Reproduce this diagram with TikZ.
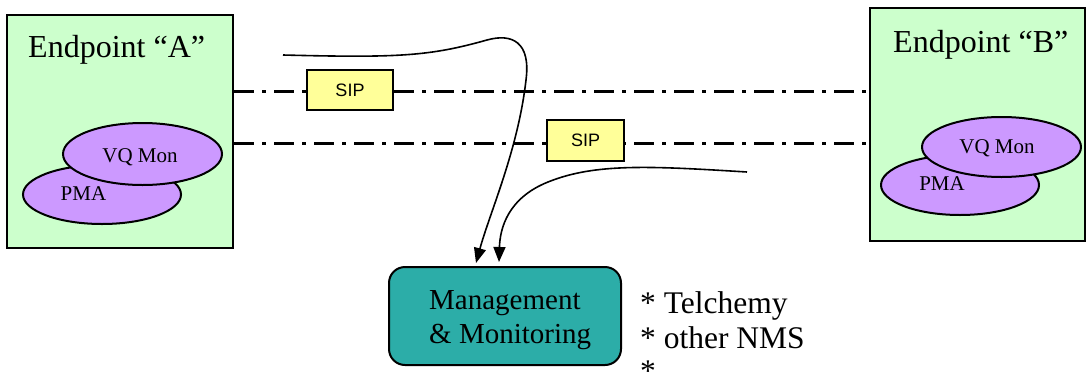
\documentclass[tikz,border=0pt]{standalone}
\usepackage{fontspec}
\setmainfont{Liberation Serif}
\newfontfamily\sipfont{Liberation Sans}
\usetikzlibrary{arrows.meta,shapes.geometric,calc}
\definecolor{epgreen}{HTML}{CCFFCC}
\definecolor{agentviolet}{HTML}{CC99FF}
\definecolor{sipyellow}{HTML}{FFFF99}
\definecolor{mgmtteal}{RGB}{44,173,168}
\begin{document}
\begin{tikzpicture}[x=1pt,y=-1pt,
  endpoint/.style={draw=black,line width=2pt,fill=epgreen,inner sep=0pt},
  eptitle/.style={anchor=base west,inner sep=0pt,font=\fontsize{32}{36}\selectfont},
  agent/.style={ellipse,draw=black,line width=2pt,fill=agentviolet,inner sep=0pt},
  agenttext/.style={anchor=base,inner sep=0pt,font=\fontsize{21}{24}\selectfont},
  sipbox/.style={draw=black,line width=2pt,fill=sipyellow,inner sep=0pt,
    minimum width=86pt,minimum height=40pt,font=\sipfont\fontsize{18}{20}\selectfont},
  sigline/.style={line width=3pt,dash pattern=on 20pt off 8pt on 4pt off 8pt},
  flow/.style={line width=1.6pt,-{Triangle[length=15pt,width=12pt]}},
  mgmt/.style={draw=black,line width=2pt,fill=mgmtteal,rounded corners=16pt,
    inner sep=0pt,minimum width=232pt,minimum height=98pt},
  mgmttext/.style={anchor=base west,inner sep=0pt,font=\fontsize{29}{34}\selectfont},
  notes/.style={anchor=base west,inner sep=0pt,font=\fontsize{31.5}{36}\selectfont}]
\useasboundingbox (0,0) rectangle (1087,378);

% endpoints
\node[endpoint,minimum width=226pt,minimum height=233pt] (epA) at (120,131.5) {};
\node[endpoint,minimum width=215pt,minimum height=233pt] (epB) at (977.5,124.5) {};
\node[eptitle] (epAtitle) at (28,57) {Endpoint “A”};
\node[eptitle] (epBtitle) at (893,52) {Endpoint “B”};

% agents inside endpoint A
\node[agent,minimum width=158pt,minimum height=59pt] (pmaA) at (102,194.5) {};
\node[agent,minimum width=159pt,minimum height=62pt] (vqA) at (142.5,154) {};
\node[agenttext] (pmaAtext) at (83.5,200) {PMA};
\node[agenttext] (vqAtext) at (140,162) {VQ Mon};

% agents inside endpoint B
\node[agent,minimum width=158pt,minimum height=60pt] (pmaB) at (960,185) {};
\node[agent,minimum width=159pt,minimum height=60pt] (vqB) at (1001.5,147) {};
\node[agenttext] (pmaBtext) at (942,190) {PMA};
\node[agenttext] (vqBtext) at (997,153) {VQ Mon};

% signalling paths between the endpoints
\coordinate (s1A) at (epA.east |- 0,91);
\coordinate (s1B) at (epB.west |- 0,91);
\coordinate (s2A) at (epA.east |- 0,143);
\coordinate (s2B) at (epB.west |- 0,143);
\draw[sigline] (s1A) -- (s1B);
\draw[sigline] (s2A) -- (s2B);
\node[sipbox] (sip1) at (350,90) {SIP};
\node[sipbox,minimum width=77pt,minimum height=41pt] (sip2) at (585.5,140.5) {SIP};

% management station
\node[mgmt] (mm) at (505,316) {};
\node[mgmttext] (mmline1) at (429,309) {Management};
\node[mgmttext] (mmline2) at (429,343) {\& Monitoring};
\node[notes] (nms1) at (640,313) {* Telchemy};
\node[notes] (nms2) at (640,348) {* other NMS};
% last bullet: only the star itself sits above the lower edge
\node[notes] (nms3) at (640,377) {\raisebox{-4pt}[\dimexpr\height-4pt\relax][0pt]{*}};

% reports flowing to the management station
\coordinate (r1) at (283,55);
\coordinate (r2) at (747,172);
\draw[flow] (r1) .. controls (400,58) and (430,56) .. (487,40)
  .. controls (512,33) and (531,42) .. (526,80)
  .. controls (518,150) and (490,212) .. ($(mm.north west)+(88,-3)$);
\draw[flow] (r2) .. controls (650,166) and (595,163) .. (548,182)
  .. controls (508,198) and (500,228) .. ($(mm.north west)+(111,-4)$);
\end{tikzpicture}
\end{document}
